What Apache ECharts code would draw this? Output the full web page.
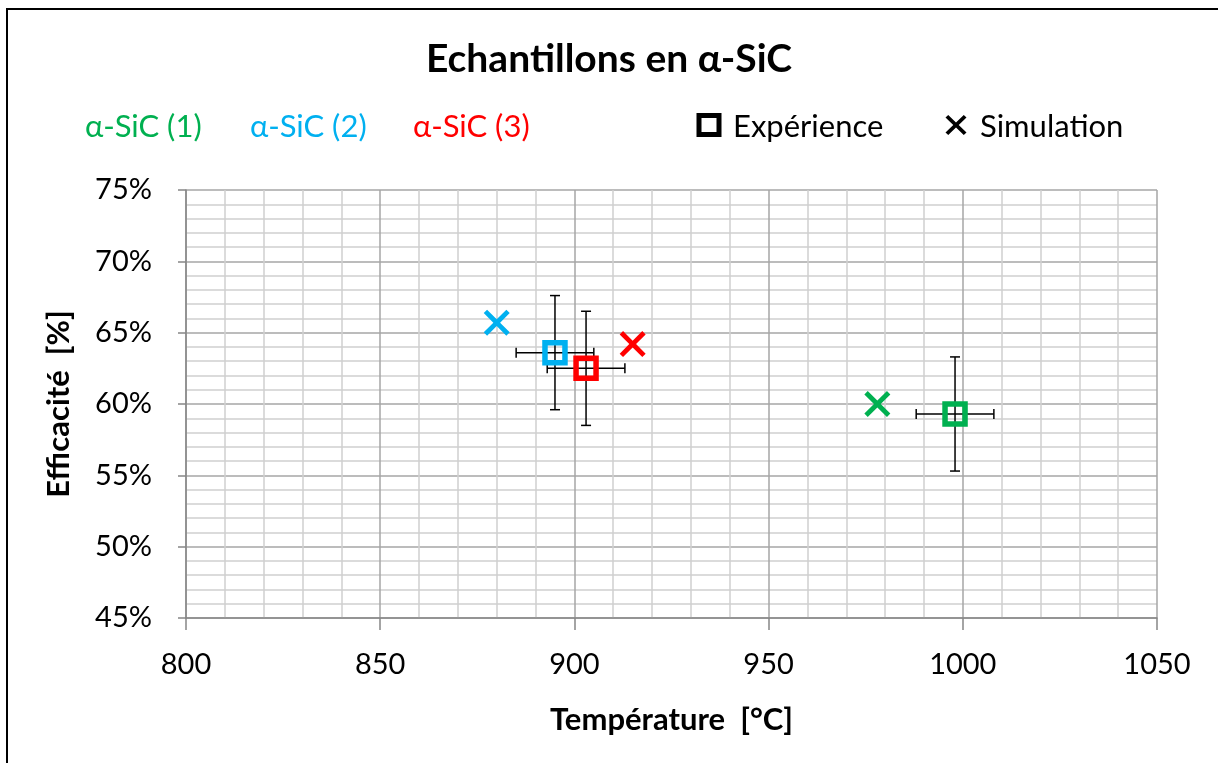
<!DOCTYPE html>
<html><head><meta charset="utf-8">
<script src="https://cdn.jsdelivr.net/npm/echarts@6/dist/echarts.min.js"></script>
<style>html,body{margin:0;padding:0;background:#fff}#c{width:1218px;height:763px}</style>
</head><body><div id="c"></div>
<script>
const seriesNames = ['α-SiC (1)', 'α-SiC (2)', 'α-SiC (3)'];
const seriesColors = ['#00B050', '#00B0F0', '#FF0000'];
const expTemp = [998, 895, 903];
const expEff = [59.3, 63.6, 62.5];
const expTempErr = [10, 10, 10];
const expEffErr = [4, 4, 4];
const simTemp = [978, 880, 915];
const simEff = [60.0, 65.7, 64.2];
const xTicks = [800, 850, 900, 950, 1000, 1050];
const yTicks = [45, 50, 55, 60, 65, 70, 75];

const FONT = 'Lato';
const xShape = [[0,2.6],[2.6,0],[10,7.4],[17.4,0],[20,2.6],[12.6,10],[20,17.4],[17.4,20],[10,12.6],[2.6,20],[0,17.4],[7.4,10]];
const xPath = 'path://M' + xShape.map(p => p[0] + ',' + p[1]).join('L') + 'Z';

const chart = echarts.init(document.getElementById('c'));
const series = [];
series.push({
  type: 'custom',
  z: 2,
  data: expTemp.map((t, i) => [t, expEff[i], expTempErr[i], expEffErr[i]]),
  renderItem: function (params, api) {
    const x = api.value(0), y = api.value(1), dx = api.value(2), dy = api.value(3);
    const c = api.coord([x, y]);
    const l = api.coord([x - dx, y]), r = api.coord([x + dx, y]);
    const t = api.coord([x, y + dy]), b = api.coord([x, y - dy]);
    const cap = 5;
    const st = { stroke: '#000', lineWidth: 1.5 };
    return {
      type: 'group',
      children: [
        { type: 'line', shape: { x1: l[0], y1: c[1], x2: r[0], y2: c[1] }, style: st },
        { type: 'line', shape: { x1: l[0], y1: c[1] - cap, x2: l[0], y2: c[1] + cap }, style: st },
        { type: 'line', shape: { x1: r[0], y1: c[1] - cap, x2: r[0], y2: c[1] + cap }, style: st },
        { type: 'line', shape: { x1: c[0], y1: t[1], x2: c[0], y2: b[1] }, style: st },
        { type: 'line', shape: { x1: c[0] - cap, y1: t[1], x2: c[0] + cap, y2: t[1] }, style: st },
        { type: 'line', shape: { x1: c[0] - cap, y1: b[1], x2: c[0] + cap, y2: b[1] }, style: st }
      ]
    };
  },
  silent: true
});
seriesNames.forEach((n, i) => {
  series.push({
    type: 'scatter', name: n + ' exp', z: 3,
    data: [[expTemp[i], expEff[i]]],
    symbol: 'rect', symbolSize: 20,
    itemStyle: { color: 'rgba(255,255,255,0)', borderColor: seriesColors[i], borderWidth: 5.5, opacity: 1 }
  });
  series.push({
    type: 'scatter', name: n + ' sim', z: 3,
    data: [[simTemp[i], simEff[i]]],
    symbol: xPath, symbolSize: 26,
    itemStyle: { color: seriesColors[i], opacity: 1 }
  });
});

const LEG_FONT = '31px ' + FONT;
const legendTexts = [];
seriesNames.forEach((n, i) => {
  legendTexts.push({ type: 'text', x: [85, 250, 413][i], y: 127,
    style: { text: n, fill: seriesColors[i], font: LEG_FONT, textVerticalAlign: 'middle' } });
});

chart.setOption({
  animation: false,
  textStyle: { fontFamily: FONT },
  title: { text: 'Echantillons en α-SiC', left: 'center', top: 35,
    textStyle: { fontFamily: FONT, fontWeight: 'bold', fontSize: 39, color: '#000' } },
  grid: { left: 186, right: 61, top: 190, bottom: 145 },
  xAxis: {
    type: 'value', min: 800, max: 1050, interval: 50,
    name: 'Température  [°C]', nameLocation: 'middle', nameGap: 86,
    nameTextStyle: { fontFamily: FONT, fontWeight: 'bold', fontSize: 31, color: '#000' },
    axisLine: { show: true, lineStyle: { color: '#868686', width: 1.5 } },
    axisTick: { show: true, length: 12, lineStyle: { color: '#868686', width: 1.5 } },
    axisLabel: { fontSize: 29, color: '#000', margin: 32, fontFamily: FONT, formatter: v => String(v) },
    splitLine: { show: true, lineStyle: { color: '#a6a6a6', width: 1.5 } },
    minorTick: { show: false, splitNumber: 5 },
    minorSplitLine: { show: true, lineStyle: { color: '#d0d0d0', width: 1.5 } }
  },
  yAxis: {
    type: 'value', min: 45, max: 75, interval: 5,
    name: 'Efficacité  [%]', nameLocation: 'middle', nameGap: 112, nameRotate: 90,
    nameTextStyle: { fontFamily: FONT, fontWeight: 'bold', fontSize: 31, color: '#000' },
    axisLine: { show: true, lineStyle: { color: '#868686', width: 1.5 } },
    axisTick: { show: true, length: 8, lineStyle: { color: '#868686', width: 1.5 } },
    axisLabel: { fontSize: 29, color: '#000', margin: 34, formatter: '{value}%', fontFamily: FONT },
    splitLine: { show: true, lineStyle: { color: '#a6a6a6', width: 1.5 } },
    minorTick: { show: false, splitNumber: 5 },
    minorSplitLine: { show: true, lineStyle: { color: '#d0d0d0', width: 1.5 } }
  },
  series: series,
  graphic: [
    { type: 'polyline', shape: { points: [[7, 800], [7, 9], [1230, 9]] }, style: { stroke: '#000', lineWidth: 2, fill: null } },
    ...legendTexts,
    { type: 'rect', shape: { x: 699, y: 115.5, width: 20, height: 19 }, style: { fill: 'none', stroke: '#000', lineWidth: 5 } },
    { type: 'text', x: 733, y: 127, style: { text: 'Expérience', fill: '#000', font: LEG_FONT, textVerticalAlign: 'middle' } },
    { type: 'polygon', shape: { points: xShape.map(p => [945.5 + p[0] * 1.05, 115 + p[1] * 1.0]) }, style: { fill: '#000' } },
    { type: 'text', x: 980, y: 127, style: { text: 'Simulation', fill: '#000', font: LEG_FONT, textVerticalAlign: 'middle' } }
  ]
});
</script></body></html>
